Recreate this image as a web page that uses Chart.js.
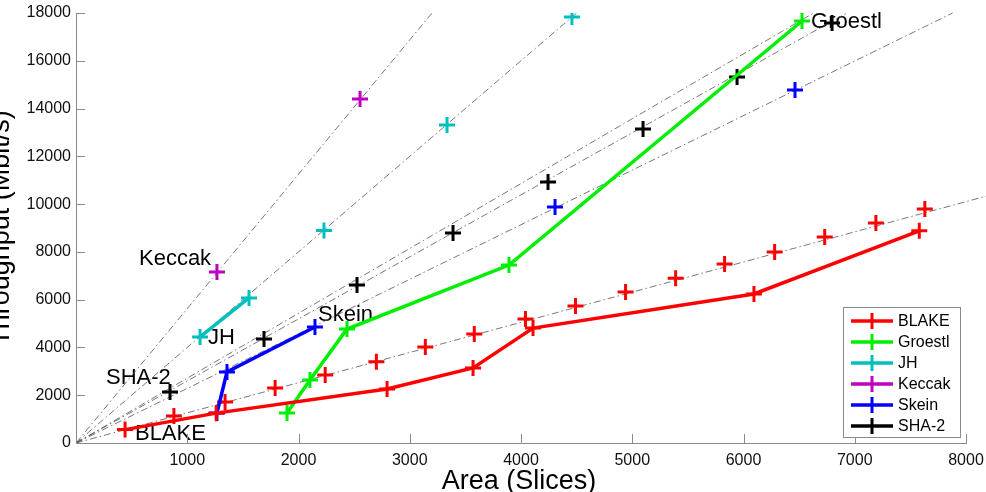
<!DOCTYPE html>
<html>
<head>
<meta charset="utf-8">
<title>Throughput x Area</title>
<script src="https://cdn.jsdelivr.net/npm/chart.js@4.4.1/dist/chart.umd.min.js"></script>
<style>
    html, body { margin: 0; padding: 0; background: #fff; }
    #grafico { display: block; }
</style>
</head>
<body>
<canvas id="grafico" width="986" height="492"></canvas>
<script>
// Dados (Area em slices, Throughput em Mbit/s)
const blakeArea = [441, 1260, 2796, 3569, 4108, 6094, 7580];
const blakeThroughput = [560, 1250, 2260, 3140, 4810, 6240, 8880];
const blakeExtraArea = [880, 1340, 1790, 2240, 2700, 3140, 3580, 4040, 4490, 4940, 5390, 5830, 6280, 6730, 7190, 7630];
const blakeExtraThroughput = [1130, 1720, 2300, 2850, 3400, 4020, 4560, 5190, 5740, 6320, 6900, 7490, 8000, 8620, 9210, 9800];

const groestlArea = [1897, 2103, 2436, 3892, 6526];
const groestlThroughput = [1256, 2637, 4772, 7451, 17665];

const jhArea = [1115, 1555];
const jhThroughput = [4440, 6070];
const jhExtraArea = [2229, 3335, 4458];
const jhExtraThroughput = [8900, 13310, 17830];

const keccakArea = [1267, 2553];
const keccakThroughput = [7160, 14400];

const skeinArea = [1267, 1357, 2148];
const skeinThroughput = [1256, 2972, 4856];
const skeinExtraArea = [4306, 6463];
const skeinExtraThroughput = [9880, 14780];

const sha2Area = [845, 1690, 2526, 3389, 4243, 5097, 5942, 6796];
const sha2Throughput = [2135, 4353, 6614, 8790, 10926, 13144, 15321, 17581];

// Retas de referência (traço-ponto) saindo da origem até estes pontos
const refFimArea = [3200, 4500, 6630, 6930, 7880, 8180];
const refFimThroughput = [18000, 18000, 18000, 18000, 18000, 10330];

// Rótulos de texto dentro do gráfico
const rotulos = ['Keccak', 'JH', 'SHA-2', 'BLAKE', 'Skein', 'Groestl'];
const rotulosArea = [566, 1187, 270, 530, 2175, 6607];
const rotulosThroughput = [7450, 4150, 2470, 130, 5110, 17370];

// Legenda
const nomes = ['BLAKE', 'Groestl', 'JH', 'Keccak', 'Skein', 'SHA-2'];
const cores = ['#ff0000', '#00ee00', '#00bfbf', '#bf00bf', '#0000ff', '#000000'];

const ticksX = [0, 1000, 2000, 3000, 4000, 5000, 6000, 7000, 8000];
const ticksY = [0, 2000, 4000, 6000, 8000, 10000, 12000, 14000, 16000, 18000];

const fonte = '"Liberation Sans", Arial, Helvetica, sans-serif';
const corEixo = '#8a8a8a';

const pontos = (xs, ys) => xs.map((x, i) => ({ x: x, y: ys[i] }));

// Série com cruzes (+), com ou sem linha
const serie = (label, xs, ys, cor, comLinha) => ({
    label: label,
    data: pontos(xs, ys),
    borderColor: cor,
    backgroundColor: cor,
    pointStyle: 'cross',
    pointRadius: 8,
    pointHoverRadius: 8,
    pointBorderWidth: 3,
    pointHoverBorderWidth: 3,
    borderWidth: 3.5,
    showLine: comLinha,
    tension: 0,
    order: 1
});

const datasets = [
    serie('BLAKE', blakeArea, blakeThroughput, cores[0], true),
    serie('Groestl', groestlArea, groestlThroughput, cores[1], true),
    serie('JH', jhArea, jhThroughput, cores[2], true),
    serie('Keccak', keccakArea, keccakThroughput, cores[3], false),
    serie('Skein', skeinArea, skeinThroughput, cores[4], true),
    serie('SHA-2', sha2Area, sha2Throughput, cores[5], false),
    serie('BLAKE', blakeExtraArea, blakeExtraThroughput, cores[0], false),
    serie('JH', jhExtraArea, jhExtraThroughput, cores[2], false),
    serie('Skein', skeinExtraArea, skeinExtraThroughput, cores[4], false)
];

refFimArea.forEach((x, i) => {
    datasets.push({
        label: 'ref',
        data: [{ x: 0, y: 0 }, { x: x, y: refFimThroughput[i] }],
        borderColor: '#555',
        borderWidth: 0.8,
        borderDash: [7, 3, 1.5, 3],
        pointRadius: 0,
        pointHoverRadius: 0,
        showLine: true,
        clip: false,
        order: 10
    });
});

// Plugin para ticks internos, rótulos, títulos dos eixos e legenda
const extras = {
    id: 'extras',
    beforeDatasetsDraw(chart) {
        const { ctx, scales: { x, y } } = chart;
        ctx.save();
        ctx.fillStyle = '#000';
        ctx.font = '22px ' + fonte;
        ctx.textAlign = 'left';
        ctx.textBaseline = 'alphabetic';
        rotulos.forEach((t, i) => {
            ctx.fillText(t, x.getPixelForValue(rotulosArea[i]), y.getPixelForValue(rotulosThroughput[i]));
        });
        ctx.restore();
    },
    afterDraw(chart) {
        const { ctx, chartArea: a, scales: { x, y } } = chart;
        ctx.save();

        // ticks para dentro
        ctx.strokeStyle = corEixo;
        ctx.lineWidth = 1;
        ticksX.forEach(v => {
            const px = Math.round(x.getPixelForValue(v)) + 0.5;
            ctx.beginPath();
            ctx.moveTo(px, a.bottom);
            ctx.lineTo(px, a.bottom - 9);
            ctx.stroke();
        });
        ticksY.forEach(v => {
            const py = Math.round(y.getPixelForValue(v)) + 0.5;
            ctx.beginPath();
            ctx.moveTo(a.left, py);
            ctx.lineTo(a.left + 9, py);
            ctx.stroke();
        });

        // títulos dos eixos
        ctx.fillStyle = '#000';
        ctx.font = '27px ' + fonte;
        ctx.textAlign = 'center';
        ctx.textBaseline = 'alphabetic';
        ctx.fillText('Area (Slices)', (a.left + a.right) / 2 - 2, 489);
        ctx.save();
        ctx.translate(9, (a.top + a.bottom) / 2);
        ctx.rotate(-Math.PI / 2);
        ctx.fillText('Throughput (Mbit/s)', 0, 0);
        ctx.restore();

        // legenda
        const lx = 843.5, ly = 307.5, lw = 117, lh = 130;
        ctx.fillStyle = '#fff';
        ctx.fillRect(lx, ly, lw, lh);
        ctx.strokeStyle = corEixo;
        ctx.lineWidth = 1;
        ctx.strokeRect(lx, ly, lw, lh);
        ctx.font = '16px ' + fonte;
        ctx.textAlign = 'left';
        ctx.textBaseline = 'middle';
        nomes.forEach((nome, i) => {
            const cy = 321 + i * 21;
            ctx.strokeStyle = cores[i];
            ctx.lineWidth = 3.5;
            ctx.beginPath();
            ctx.moveTo(851, cy);
            ctx.lineTo(893, cy);
            ctx.stroke();
            ctx.lineWidth = 3;
            ctx.beginPath();
            ctx.moveTo(872, cy - 8);
            ctx.lineTo(872, cy + 8);
            ctx.stroke();
            ctx.fillStyle = '#000';
            ctx.fillText(nome, 898, cy + 1);
        });

        ctx.restore();
    }
};

const ctx = document.getElementById('grafico').getContext('2d');
window.grafico = new Chart(ctx, {
    type: 'scatter',
    data: { datasets: datasets },
    options: {
        responsive: false,
        animation: false,
        events: [],
        layout: { padding: { top: 13, right: 20, left: 0, bottom: 0 } },
        plugins: {
            legend: { display: false },
            tooltip: { enabled: false },
            title: { display: false }
        },
        scales: {
            x: {
                type: 'linear',
                min: 0,
                max: 8000,
                afterFit: (s) => {
                    s.height = 49;
                    s.paddingLeft = 0;
                    s.paddingRight = 0;
                },
                grid: { display: false, drawTicks: false },
                border: { display: true, color: corEixo, width: 1 },
                ticks: {
                    stepSize: 1000,
                    padding: 8,
                    color: '#111',
                    font: { family: fonte, size: 16 },
                    maxRotation: 0,
                    callback: (v) => v === 0 ? '' : v
                }
            },
            y: {
                type: 'linear',
                min: 0,
                max: 18000,
                afterFit: (s) => {
                    s.width = 76;
                    s.paddingTop = 0;
                    s.paddingBottom = 0;
                },
                grid: { display: false, drawTicks: false },
                border: { display: true, color: corEixo, width: 1 },
                ticks: {
                    stepSize: 2000,
                    padding: 5,
                    color: '#111',
                    font: { family: fonte, size: 16 },
                    callback: (v) => v
                }
            }
        }
    },
    plugins: [extras]
});
</script>
</body>
</html>
